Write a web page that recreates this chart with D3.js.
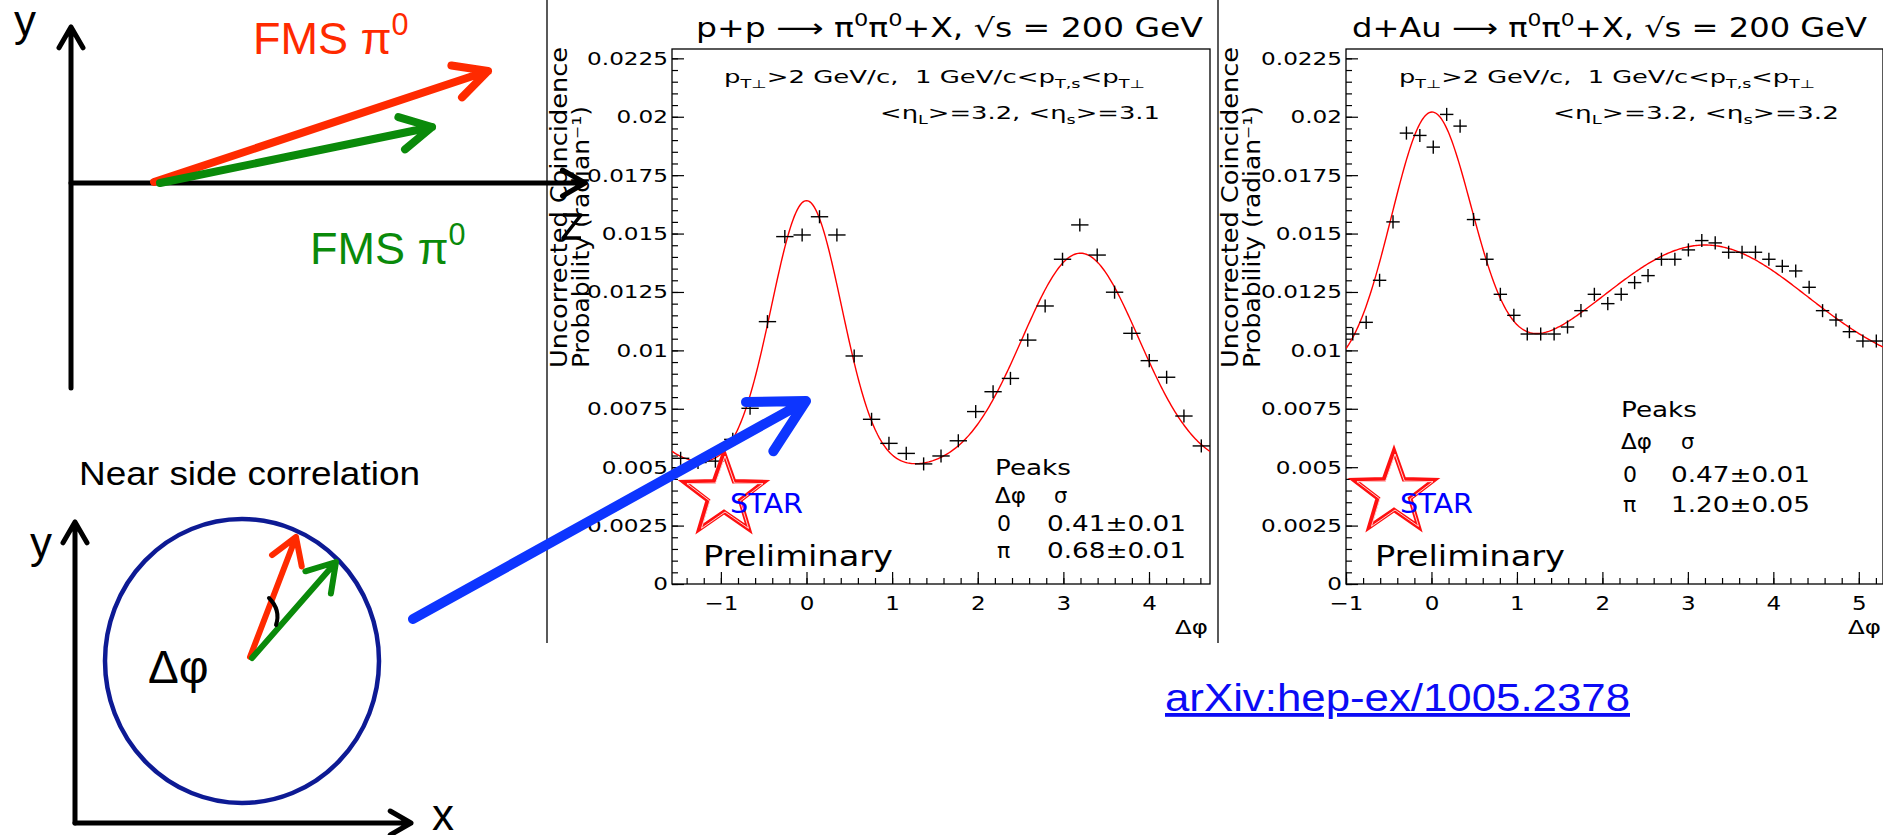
<!DOCTYPE html>
<html>
<head>
<meta charset="utf-8">
<script src="https://cdn.jsdelivr.net/npm/d3@7"></script>
<style>
  html, body { margin: 0; padding: 0; background: #fff; }
  svg { display: block; }
  text { white-space: pre; }
</style>
</head>
<body>
<svg id="slide" width="1883" height="835"></svg>
<script>
/* ---------- data ---------- */
// p+p : 31 bins over [-pi/2, 3pi/2]
var ppPhi = [-1.470, -1.267, -1.064, -0.861, -0.659, -0.456, -0.253, -0.051, 0.152, 0.355,
             0.557, 0.760, 0.963, 1.165, 1.368, 1.571, 1.773, 1.976, 2.179, 2.382,
             2.584, 2.787, 2.990, 3.192, 3.395, 3.598, 3.800, 4.003, 4.206, 4.408, 4.611];
var ppProb = [0.00538, 0.00520, 0.00526, 0.00619, 0.00752, 0.01123, 0.01487, 0.01494, 0.01572, 0.01494,
              0.00976, 0.00705, 0.00602, 0.00559, 0.00514, 0.00548, 0.00613, 0.00738, 0.00823, 0.00880,
              0.01044, 0.01190, 0.01390, 0.01537, 0.01408, 0.01249, 0.01073, 0.00956, 0.00885, 0.00719, 0.00591];
// d+Au : 40 bins over [-1, 2pi-1]
var dauPhi = [-0.921, -0.764, -0.607, -0.450, -0.293, -0.136, 0.021, 0.178, 0.335, 0.492,
              0.649, 0.806, 0.964, 1.121, 1.278, 1.435, 1.592, 1.749, 1.906, 2.063,
              2.220, 2.377, 2.534, 2.691, 2.848, 3.006, 3.163, 3.320, 3.477, 3.634,
              3.791, 3.948, 4.105, 4.262, 4.419, 4.576, 4.733, 4.890, 5.048, 5.205];
var dauProb = [0.0107, 0.0112, 0.0130, 0.0155, 0.0193, 0.0192, 0.0187, 0.0201, 0.0196, 0.0156,
               0.0139, 0.0124, 0.0115, 0.0107, 0.0107, 0.0107, 0.0110, 0.0117, 0.0124, 0.0120,
               0.0124, 0.0129, 0.0132, 0.0139, 0.0139, 0.0143, 0.0147, 0.0146, 0.0142, 0.0142,
               0.0142, 0.0139, 0.0136, 0.0134, 0.0127, 0.0117, 0.0113, 0.0108, 0.0104, 0.0104];
var ppErr = 0.00028;
var dauErr = 0.00028;

// fit curves: constant + gaussians [amplitude, mean, sigma]
var ppFitBase = 0.00489;
var ppFitPeaks = [[0.01152, 0.0, 0.41], [0.00927, 3.2, 0.68], [0.00927, -3.083, 0.68]];
var dauFitBase = 0.0089;
var dauFitPeaks = [[0.01114, 0.0, 0.47], [0.00561, 3.2, 1.20]];

var yTicks = [0, 0.0025, 0.005, 0.0075, 0.01, 0.0125, 0.015, 0.0175, 0.02, 0.0225];
var ppXTicks = [-1, 0, 1, 2, 3, 4];
var dauXTicks = [-1, 0, 1, 2, 3, 4, 5];
var ppPeaks = [["0", "0.41\u00b10.01"], ["\u03c0", "0.68\u00b10.01"]];
var dauPeaks = [["0", "0.47\u00b10.01"], ["\u03c0", "1.20\u00b10.05"]];

var yMax = 0.0229;
var ROOT_FONT = "DejaVu Sans";
var SLIDE_FONT = "Liberation Sans, Arial, sans-serif";

var svg = d3.select("#slide");

/* ---------- helpers ---------- */
function richText(g, x, y, parts, size, opts) {
  opts = opts || {};
  var t = g.append("text")
    .attr("x", x).attr("y", y)
    .attr("font-family", opts.font || ROOT_FONT)
    .attr("font-size", size)
    .attr("fill", opts.fill || "#000")
    .attr("text-anchor", opts.anchor || "start");
  var cur = 0;
  parts.forEach(function(p) {
    var txt = typeof p === "string" ? p : p[0];
    var kind = typeof p === "string" ? "" : p[1];
    var target = kind === "sub" ? 0.28 * size : kind === "sup" ? -0.42 * size : 0;
    var ts = t.append("tspan").text(txt);
    if (target !== cur) ts.attr("dy", target - cur);
    if (kind) ts.attr("font-size", size * 0.68);
    cur = target;
  });
  if (opts.width) t.attr("textLength", opts.width).attr("lengthAdjust", "spacingAndGlyphs");
  if (opts.rotate) t.attr("transform", "rotate(" + opts.rotate + "," + x + "," + y + ")");
  return t;
}

function stretch(sel, k) {
  sel.each(function() {
    var L = this.getComputedTextLength();
    d3.select(this).attr("textLength", L * k).attr("lengthAdjust", "spacingAndGlyphs");
  });
}

function fitValue(base, peaks, x) {
  var v = base;
  peaks.forEach(function(p) {
    var d = x - p[1];
    v += p[0] * Math.exp(-d * d / (2 * p[2] * p[2]));
  });
  return v;
}

function arrow(g, x1, y1, x2, y2, color, width, headLen, headDeg) {
  var a = Math.atan2(y1 - y2, x1 - x2), h = headDeg * Math.PI / 180;
  var path = "M" + x1 + "," + y1 + "L" + x2 + "," + y2 +
    "M" + (x2 + headLen * Math.cos(a + h)) + "," + (y2 + headLen * Math.sin(a + h)) +
    "L" + x2 + "," + y2 +
    "L" + (x2 + headLen * Math.cos(a - h)) + "," + (y2 + headLen * Math.sin(a - h));
  g.append("path").attr("d", path).attr("fill", "none")
    .attr("stroke", color).attr("stroke-width", width)
    .attr("stroke-linecap", "round").attr("stroke-linejoin", "round");
}

function starPath(cx, cy, R, r) {
  var pts = [];
  for (var i = 0; i < 10; i++) {
    var ang = -Math.PI / 2 + i * Math.PI / 5, rad = i % 2 ? r : R;
    pts.push([cx + rad * Math.cos(ang), cy + rad * Math.sin(ang)]);
  }
  return "M" + pts.map(function(p) { return p.join(","); }).join("L") + "Z";
}

/* ---------- one ROOT pad ---------- */
function drawPanel(c) {
  var top = 49, bottom = 584;
  var x = d3.scaleLinear().domain([c.xMin, c.xMin + 2 * Math.PI]).range([c.left, c.right]);
  var y = d3.scaleLinear().domain([0, yMax]).range([bottom, top]);
  var g = svg.append("g");

  // pad border
  g.append("line").attr("x1", c.border).attr("x2", c.border).attr("y1", 0).attr("y2", 643)
    .attr("stroke", "#000").attr("stroke-width", 1.3);

  var clipId = "clip" + c.id;
  g.append("clipPath").attr("id", clipId).append("rect")
    .attr("x", c.left).attr("y", top).attr("width", c.right - c.left).attr("height", bottom - top);

  // minor ticks
  var minorX = d3.range(Math.ceil(c.xMin * 5), Math.floor((c.xMin + 2 * Math.PI) * 5) + 1).map(function(i) { return i / 5; });
  var minorY = d3.range(0, 46).map(function(i) { return i * 0.0005; });
  g.append("g").attr("transform", "translate(0," + bottom + ")")
    .call(d3.axisBottom(x).tickValues(minorX).tickSizeInner(-6).tickSizeOuter(0).tickFormat(""))
    .call(function(s) { s.select(".domain").remove(); });
  g.append("g").attr("transform", "translate(" + c.left + ",0)")
    .call(d3.axisLeft(y).tickValues(minorY).tickSizeInner(-6).tickSizeOuter(0).tickFormat(""))
    .call(function(s) { s.select(".domain").remove(); });

  // major ticks + labels
  var xa = g.append("g").attr("transform", "translate(0," + bottom + ")")
    .call(d3.axisBottom(x).tickValues(c.xTicks).tickSizeInner(-12).tickSizeOuter(0).tickPadding(12)
      .tickFormat(function(d) { return d < 0 ? "\u2212" + (-d) : String(d); }));
  xa.select(".domain").remove();
  xa.selectAll("text").attr("font-family", ROOT_FONT).attr("font-size", 20).attr("fill", "#000");
  stretch(xa.selectAll("text"), 1.15);

  var ya = g.append("g").attr("transform", "translate(" + c.left + ",0)")
    .call(d3.axisLeft(y).tickValues(yTicks).tickSizeInner(-12).tickSizeOuter(0).tickPadding(4)
      .tickFormat(function(d) { return String(+d.toFixed(4)); }));
  ya.select(".domain").remove();
  ya.selectAll("text").attr("font-family", ROOT_FONT).attr("font-size", 18.5).attr("fill", "#000");
  stretch(ya.selectAll("text"), 1.25);
  g.selectAll(".tick line").attr("stroke", "#000").attr("stroke-width", 1.2);

  // frame
  g.append("rect").attr("x", c.left).attr("y", top)
    .attr("width", c.right - c.left).attr("height", bottom - top)
    .attr("fill", "none").attr("stroke", "#000").attr("stroke-width", 1.3);

  // fit curve
  var xs = d3.range(0, 401).map(function(i) { return c.xMin + i * 2 * Math.PI / 400; });
  g.append("path")
    .datum(xs)
    .attr("clip-path", "url(#" + clipId + ")")
    .attr("d", d3.line().x(function(d) { return x(d); }).y(function(d) { return y(fitValue(c.fitBase, c.fitPeaks, d)); }))
    .attr("fill", "none").attr("stroke", "#ff0000").attr("stroke-width", 1.4);

  // histogram points with error bars
  var bw = 2 * Math.PI / c.phi.length;
  var pts = g.append("g").attr("clip-path", "url(#" + clipId + ")")
    .selectAll("g").data(c.phi.map(function(p, i) { return [p, c.prob[i]]; }))
    .enter().append("g");
  pts.append("line")
    .attr("x1", function(d) { return x(d[0] - bw / 2); })
    .attr("x2", function(d) { return x(d[0] + bw / 2); })
    .attr("y1", function(d) { return y(d[1]); })
    .attr("y2", function(d) { return y(d[1]); })
    .attr("stroke", "#000").attr("stroke-width", 1.4);
  pts.append("line")
    .attr("x1", function(d) { return x(d[0]); })
    .attr("x2", function(d) { return x(d[0]); })
    .attr("y1", function(d) { return y(d[1] - c.err); })
    .attr("y2", function(d) { return y(d[1] + c.err); })
    .attr("stroke", "#000").attr("stroke-width", 1.4);

  // title and cut labels
  richText(g, c.titleX, 37, [c.title + " \u27f6 \u03c0", ["0", "sup"], "\u03c0", ["0", "sup"], "+X, \u221as = 200 GeV"], 26, { width: c.titleW });
  richText(g, c.cutX, 83, ["p", ["T\u22a5", "sub"], ">2 GeV/c,  1 GeV/c<p", ["T,s", "sub"], "<p", ["T\u22a5", "sub"]], 17, { width: c.cutW });
  richText(g, c.etaX, 119, ["<\u03b7", ["L", "sub"], ">=3.2, <\u03b7", ["s", "sub"], ">=" + c.etaS], 17, { width: c.etaW });

  // y axis title
  richText(g, c.border + 20, 368, ["Uncorrected Coincidence"], 23, { width: 321, rotate: -90 });
  richText(g, c.border + 42, 368, ["Probability (radian\u207b\u00b9)"], 23, { width: 262, rotate: -90 });
  // x axis title
  richText(g, c.right - 2, 634, ["\u0394\u03c6"], 20, { anchor: "end", width: 33 });

  // peaks table
  var pk = c.peakPos;
  richText(g, pk.x, pk.y[0], ["Peaks"], 21, { width: 76 });
  richText(g, pk.x, pk.y[1], ["\u0394\u03c6"], 21, { width: 31 });
  richText(g, pk.sx, pk.y[1], ["\u03c3"], 21);
  c.peaks.forEach(function(r, i) {
    richText(g, pk.x + 2, pk.y[2 + i], [r[0]], 22);
    richText(g, pk.vx, pk.y[2 + i], [r[1]], 22, { width: 139 });
  });

  // STAR logo
  var st = c.star;
  g.append("path").attr("d", starPath(st.cx, st.cy, 42, 17))
    .attr("fill", "none").attr("stroke", "#ff1010").attr("stroke-width", 4.5).attr("stroke-linejoin", "miter");
  g.append("path").attr("d", starPath(st.cx + 1, st.cy + 1, 40, 16))
    .attr("fill", "none").attr("stroke", "#fff").attr("stroke-width", 0.8);
  richText(g, st.cx + 6, 513, ["STAR"], 26, { fill: "#0000ff", width: 73 });
  richText(g, st.px, 566, ["Preliminary"], 28, { width: 190 });
}

drawPanel({
  id: "pp", phi: ppPhi, prob: ppProb, err: ppErr, fitBase: ppFitBase, fitPeaks: ppFitPeaks,
  xTicks: ppXTicks, peaks: ppPeaks,
  xMin: -Math.PI / 2, border: 547, left: 672, right: 1210,
  title: "p+p", titleX: 696, titleW: 507, cutX: 724, cutW: 421, etaX: 880, etaW: 280, etaS: "3.1",
  peakPos: { x: 995, sx: 1054, vx: 1047, y: [475, 503, 531, 558] },
  star: { cx: 724, cy: 495, px: 703 }
});
drawPanel({
  id: "dau", phi: dauPhi, prob: dauProb, err: dauErr, fitBase: dauFitBase, fitPeaks: dauFitPeaks,
  xTicks: dauXTicks, peaks: dauPeaks,
  xMin: -1, border: 1218, left: 1346, right: 1883,
  title: "d+Au", titleX: 1352, titleW: 515, cutX: 1399, cutW: 416, etaX: 1553, etaW: 286, etaS: "3.2",
  peakPos: { x: 1621, sx: 1681, vx: 1671, y: [417, 449, 482, 512] },
  star: { cx: 1394, cy: 493, px: 1375 }
});

/* ---------- sketch on the left ---------- */
var sk = svg.append("g");
// upper sketch: two pi0 directions
arrow(sk, 71, 388, 71, 27, "#000", 5, 24, 30);
arrow(sk, 71, 183, 585, 183, "#000", 5, 26, 30);
arrow(sk, 154, 182, 488, 71, "#ff2a00", 8, 37, 27);
arrow(sk, 160, 183, 432, 127, "#0a8a0a", 8, 35, 28);
sk.append("text").attr("x", 14).attr("y", 36).attr("font-family", SLIDE_FONT).attr("font-size", 44).text("y");
richText(sk, 253, 54, ["FMS \u03c0", ["0", "sup"]], 45, { font: SLIDE_FONT, fill: "#ff2a00" });
richText(sk, 310, 264, ["FMS \u03c0", ["0", "sup"]], 45, { font: SLIDE_FONT, fill: "#0a8a0a" });
sk.append("path").attr("d", "M563,215 L581,215 L563,238 L581,238")
  .attr("fill", "none").attr("stroke", "#000").attr("stroke-width", 3.5).attr("stroke-linejoin", "round");

// lower sketch: near side correlation
richText(sk, 79, 485, ["Near side correlation"], 34, { font: SLIDE_FONT, width: 341 });
sk.append("text").attr("x", 30).attr("y", 558).attr("font-family", SLIDE_FONT).attr("font-size", 44).text("y");
sk.append("text").attr("x", 432).attr("y", 830).attr("font-family", SLIDE_FONT).attr("font-size", 44).text("x");
arrow(sk, 75, 823, 75, 522, "#000", 5, 24, 30);
arrow(sk, 75, 823, 411, 823, "#000", 5, 24, 30);
sk.append("ellipse").attr("cx", 242).attr("cy", 661).attr("rx", 137).attr("ry", 142)
  .attr("fill", "none").attr("stroke", "#0d1a94").attr("stroke-width", 4.5);
arrow(sk, 250, 657, 296, 537, "#ff2a00", 6, 30, 32);
arrow(sk, 252, 658, 336, 562, "#0a8a0a", 6, 32, 32);
sk.append("path").attr("d", "M269,598 Q281,610 276,625")
  .attr("fill", "none").attr("stroke", "#000").attr("stroke-width", 4).attr("stroke-linecap", "round");
sk.append("text").attr("x", 148).attr("y", 683).attr("font-family", SLIDE_FONT).attr("font-size", 46).text("\u0394\u03c6");
arrow(sk, 413, 619, 806, 401, "#0d35ff", 10, 60, 28);

// reference link
richText(sk, 1165, 711, ["arXiv:hep-ex/1005.2378"], 38, { font: SLIDE_FONT, fill: "#0b0bf5", width: 465 })
  .attr("text-decoration", "underline");
</script>
</body>
</html>
